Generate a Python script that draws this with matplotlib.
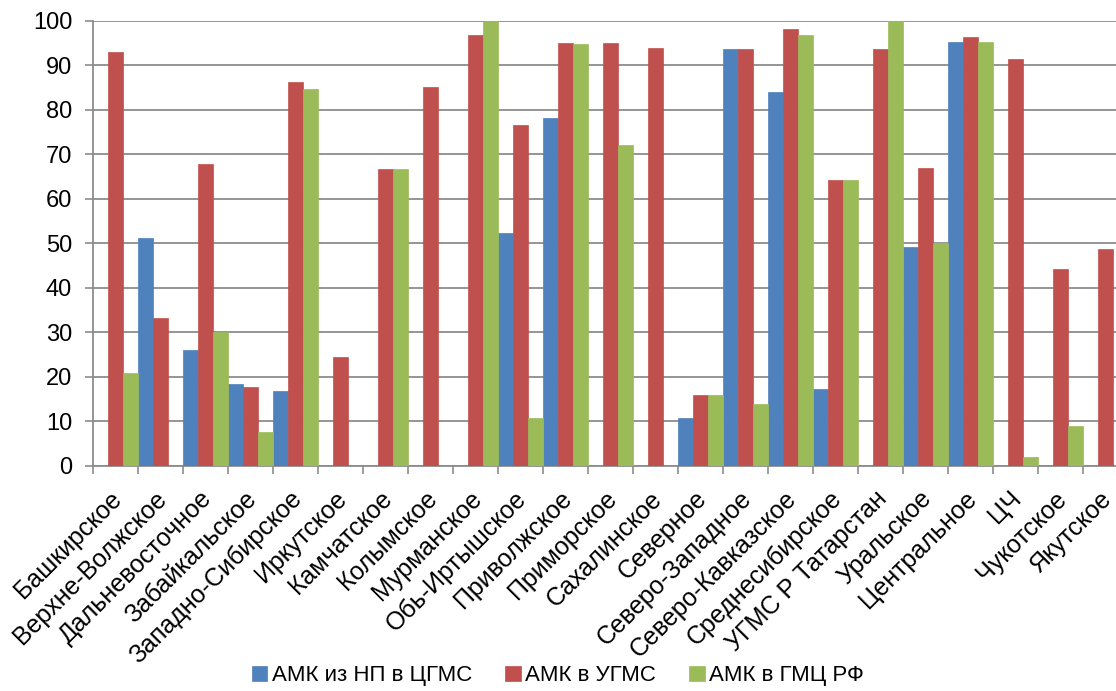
import matplotlib
matplotlib.use("Agg")
import matplotlib.pyplot as plt
import matplotlib.transforms as mtransforms
import numpy as np

plt.rcParams['font.family'] = ['Liberation Sans', 'DejaVu Sans']

regions = ["Башкирское", "Верхне-Волжское", "Дальневосточное", "Забайкальское",
           "Западно-Сибирское", "Иркутское", "Камчатское", "Колымское",
           "Мурманское", "Обь-Иртышское", "Приволжское", "Приморское",
           "Сахалинское", "Северное", "Северо-Западное", "Северо-Кавказское",
           "Среднесибирское", "УГМС Р Татарстан", "Уральское", "Центральное",
           "ЦЧ", "Чукотское", "Якутское"]

amk_np_cgms = [0, 51.1, 26.1, 18.3, 16.9, 0, 0, 0, 0, 52.4, 78.1, 0,
               0, 10.8, 93.6, 84.0, 17.2, 0, 49.2, 95.3, 0, 0, 0]
amk_ugms = [92.9, 33.3, 67.7, 17.8, 86.2, 24.4, 66.6, 85.1, 96.9, 76.5, 95.0, 95.0,
            93.9, 15.8, 93.6, 98.1, 64.2, 93.6, 66.9, 96.3, 91.5, 44.2, 48.8]
amk_gmc = [20.9, 0, 30.0, 7.6, 84.6, 0, 66.6, 0, 100, 10.8, 94.8, 72.0,
           0, 15.8, 13.9, 96.9, 64.2, 100, 50.0, 95.3, 1.9, 8.9, 0]

series = [("АМК из НП в ЦГМС", amk_np_cgms, "#4F81BD"),
          ("АМК в УГМС", amk_ugms, "#C0504D"),
          ("АМК в ГМЦ РФ", amk_gmc, "#9BBB59")]

fig = plt.figure(figsize=(11.16, 6.91), dpi=100)
ax = fig.add_axes([0.0833, 0.326, 0.9274, 0.644])

x = np.arange(len(regions))
w = 1 / 3
for i, (name, vals, col) in enumerate(series):
    ax.bar(x - 0.5 + w * (i + 0.5), vals, width=w, color=col, label=name,
           edgecolor=col, linewidth=0.5, zorder=3)

ax.set_xlim(-0.5, len(regions) - 0.5)
ax.set_ylim(0, 100)
ax.set_yticks(range(0, 101, 10))
ax.yaxis.grid(True, color="#8C8C8C", linewidth=1.3, zorder=0)
ax.tick_params(axis='y', labelsize=17, length=6, width=1.2, color="#8C8C8C", pad=9)

ax.set_xticks(x)
ax.set_xticklabels(regions, rotation=45, ha='right', rotation_mode='anchor', fontsize=18)
ax.set_xticks(np.arange(len(regions) + 1) - 0.5, minor=True)
ax.tick_params(axis='x', which='major', length=0, pad=15)
ax.tick_params(axis='x', which='minor', length=6, width=1.2, color="#8C8C8C")
shift = mtransforms.ScaledTranslation(-6 / 100, 0, fig.dpi_scale_trans)
for lbl in ax.get_xticklabels():
    lbl.set_transform(lbl.get_transform() + shift)

for s in ['top', 'right']:
    ax.spines[s].set_visible(False)
for s in ['left', 'bottom']:
    ax.spines[s].set_color("#8C8C8C")
    ax.spines[s].set_linewidth(1.3)

fig.legend(loc='center', bbox_to_anchor=(0.5, 0.022), ncol=3, frameon=False,
           fontsize=16, handlelength=0.7, handleheight=0.7, handletextpad=0.2,
           columnspacing=1.5)

fig.savefig("out.png", dpi=100)
